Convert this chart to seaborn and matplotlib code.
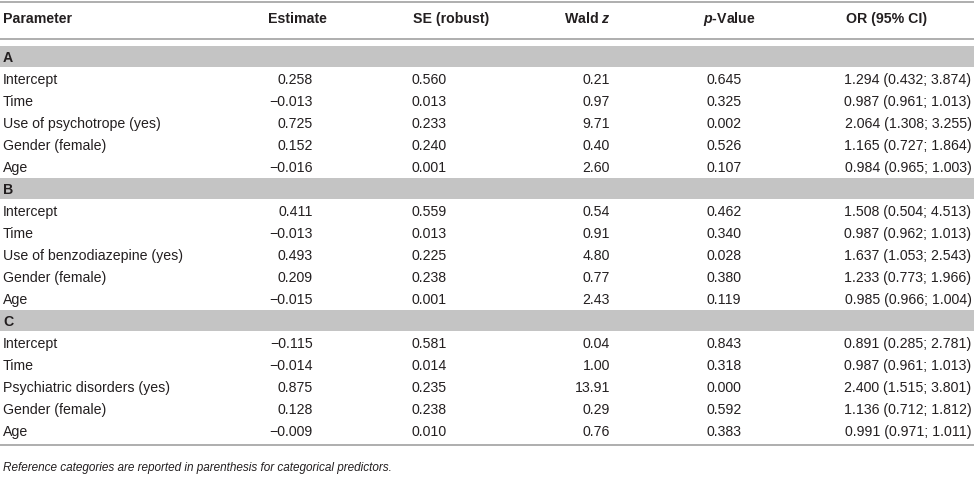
import numpy as np
import pandas as pd
import matplotlib
matplotlib.use("Agg")
import matplotlib.pyplot as plt
import seaborn as sns

# table data
groups = ["A", "B", "C"]

params_a = ["Intercept", "Time", "Use of psychotrope (yes)", "Gender (female)", "Age"]
params_b = ["Intercept", "Time", "Use of benzodiazepine (yes)", "Gender (female)", "Age"]
params_c = ["Intercept", "Time", "Psychiatric disorders (yes)", "Gender (female)", "Age"]

estimate_a = [0.258, -0.013, 0.725, 0.152, -0.016]
estimate_b = [0.411, -0.013, 0.493, 0.209, -0.015]
estimate_c = [-0.115, -0.014, 0.875, 0.128, -0.009]

se_a = [0.560, 0.013, 0.233, 0.240, 0.001]
se_b = [0.559, 0.013, 0.225, 0.238, 0.001]
se_c = [0.581, 0.014, 0.235, 0.238, 0.010]

wald_a = [0.21, 0.97, 9.71, 0.40, 2.60]
wald_b = [0.54, 0.91, 4.80, 0.77, 2.43]
wald_c = [0.04, 1.00, 13.91, 0.29, 0.76]

pval_a = [0.645, 0.325, 0.002, 0.526, 0.107]
pval_b = [0.462, 0.340, 0.028, 0.380, 0.119]
pval_c = [0.843, 0.318, 0.000, 0.592, 0.383]

or_a = [1.294, 0.987, 2.064, 1.165, 0.984]
or_b = [1.508, 0.987, 1.637, 1.233, 0.985]
or_c = [0.891, 0.987, 2.400, 1.136, 0.991]

lo_a = [0.432, 0.961, 1.308, 0.727, 0.965]
lo_b = [0.504, 0.962, 1.053, 0.773, 0.966]
lo_c = [0.285, 0.961, 1.515, 0.712, 0.971]

hi_a = [3.874, 1.013, 3.255, 1.864, 1.003]
hi_b = [4.513, 1.013, 2.543, 1.966, 1.004]
hi_c = [2.781, 1.013, 3.801, 1.812, 1.011]

note = "Reference categories are reported in parenthesis for categorical predictors."

frames = []
for g, p, e, s, w, pv, o, lo, hi in [
    ("A", params_a, estimate_a, se_a, wald_a, pval_a, or_a, lo_a, hi_a),
    ("B", params_b, estimate_b, se_b, wald_b, pval_b, or_b, lo_b, hi_b),
    ("C", params_c, estimate_c, se_c, wald_c, pval_c, or_c, lo_c, hi_c),
]:
    frames.append(pd.DataFrame({"group": g, "param": p, "est": e, "se": s,
                                "wald": w, "p": pv, "or": o, "lo": lo, "hi": hi}))
df = pd.concat(frames, ignore_index=True)


def f3(v):
    return f"{v:.3f}".replace("-", "\u2212")


def f2(v):
    return f"{v:.2f}".replace("-", "\u2212")


sns.set_theme(style="white")
plt.rcParams['font.family'] = ['Liberation Sans', 'DejaVu Sans']
plt.rcParams['mathtext.fontset'] = 'custom'
plt.rcParams['mathtext.rm'] = 'Liberation Sans'
plt.rcParams['mathtext.it'] = 'Liberation Sans:italic'
plt.rcParams['mathtext.bf'] = 'Liberation Sans:bold'
plt.rcParams['mathtext.bfit'] = 'Liberation Sans:italic:bold'

txt = "#231f20"
band = "#c4c4c4"
rule = "#a8a8a8"
fs = 10.2

fig = plt.figure(figsize=(9.74, 4.78), dpi=100)
ax = fig.add_axes([0, 0, 1, 1])
ax.set_xlim(0, 974)
ax.set_ylim(478, 0)
ax.axis("off")

# header row, all on one baseline
headers = [("Parameter", 3, "left"), ("Estimate", 297, "center"),
           ("SE (robust)", 413, "left"), (r"Wald $\mathbfit{z}$", 611, "right"),
           (r"$\mathbfit{p}$-Value", 703, "left"), ("OR (95% CI)", 846, "left")]
for h, x, ha in headers:
    ax.text(x, 23, h, ha=ha, va="baseline", fontsize=fs, fontweight="bold", color=txt)

ax.axhline(1.5, color=rule, lw=1.3)
ax.axhline(39, color=rule, lw=1.3)

pitch = 22
y = 56.5
for g in groups:
    ax.axhspan(y - 10.5, y + 10.5, color=band, lw=0)
    ax.text(3, y, g, ha="left", va="center_baseline", fontsize=fs, fontweight="bold", color=txt)
    y += pitch
    for _, r in df[df["group"] == g].iterrows():
        ax.text(3, y, r["param"], ha="left", va="center_baseline", fontsize=fs, color=txt)
        ax.text(313, y, f3(r["est"]), ha="right", va="center_baseline", fontsize=fs, color=txt)
        ax.text(412, y, f3(r["se"]), ha="left", va="center_baseline", fontsize=fs, color=txt)
        ax.text(610, y, f2(r["wald"]), ha="right", va="center_baseline", fontsize=fs, color=txt)
        ax.text(724, y, f3(r["p"]), ha="center", va="center_baseline", fontsize=fs, color=txt)
        ax.text(908, y, f"{f3(r['or'])} ({f3(r['lo'])}; {f3(r['hi'])})",
                ha="center", va="center_baseline", fontsize=fs, color=txt)
        y += pitch

ax.axhline(445, color=rule, lw=1.3)
ax.text(3, 467, note, ha="left", va="center_baseline", fontsize=8.5, style="italic", color=txt)

fig.savefig("out.png", dpi=100)
